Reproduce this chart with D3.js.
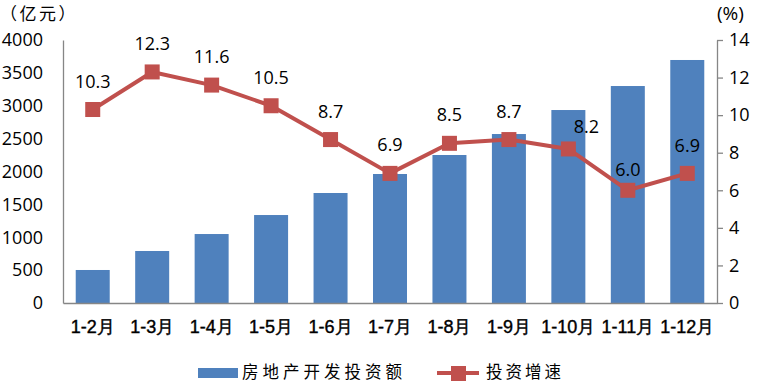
<!DOCTYPE html>
<html><head><meta charset="utf-8">
<script src="https://cdn.jsdelivr.net/npm/d3@7/dist/d3.min.js"></script>
<style>body{margin:0;background:#fff}svg{display:block}</style>
</head><body>
<svg id="c" width="761" height="382"></svg>
<script>
const categories = ["1-2月","1-3月","1-4月","1-5月","1-6月","1-7月","1-8月","1-9月","1-10月","1-11月","1-12月"];
const investment = [502, 791, 1049, 1338, 1673, 1962, 2251, 2570, 2935, 3300, 3696];
const growth = [10.3, 12.3, 11.6, 10.5, 8.7, 6.9, 8.5, 8.7, 8.2, 6.0, 6.9];
const leftTicks = [0,500,1000,1500,2000,2500,3000,3500,4000];
const rightTicks = [0,2,4,6,8,10,12,14];
const seriesNames = ["房地产开发投资额", "投资增速"];

const svg = d3.select("#c");
const L = 63, R = 717, T = 40, B = 303;
const xc = d3.scaleBand().domain(categories).range([L, R]);
const yL = d3.scaleLinear().domain([0, 4000]).range([B, T]);
const yR = d3.scaleLinear().domain([0, 14]).range([B, T]);
const blue = "#4F81BD", red = "#C0504D", axisCol = "#868686";
const numFont = "'Open Sans', sans-serif";
const cjk = "'Noto Sans CJK SC', sans-serif";

// bars
svg.append("g").selectAll("rect").data(investment).join("rect")
  .attr("x", (d,i) => xc(categories[i]) + xc.bandwidth()/2 - 17)
  .attr("width", 34)
  .attr("y", d => yL(d)).attr("height", d => B - yL(d))
  .attr("fill", blue);

// left axis
const gl = svg.append("g").attr("transform", `translate(${L},0)`)
  .call(d3.axisLeft(yL).tickValues(leftTicks).tickFormat(d3.format("d")).tickSize(0).tickPadding(20));
gl.select(".domain").attr("stroke", axisCol).attr("stroke-width", 1.3);
gl.selectAll("text").attr("font-family", numFont).attr("font-size", 18).attr("fill", "#000");

// right axis
const gr = svg.append("g").attr("transform", `translate(${R},0)`)
  .call(d3.axisRight(yR).tickValues(rightTicks).tickFormat(d3.format("d")).tickSize(6).tickPadding(6).tickSizeOuter(0));
gr.select(".domain").attr("stroke", axisCol).attr("stroke-width", 1.3);
gr.selectAll("line").attr("stroke", axisCol).attr("stroke-width", 1.3);
gr.selectAll("text").attr("font-family", numFont).attr("font-size", 18).attr("fill", "#000");

// bottom axis
const gb = svg.append("g").attr("transform", `translate(0,${B})`)
  .call(d3.axisBottom(xc).tickSize(0).tickPadding(17));
gb.select(".domain").attr("stroke", axisCol).attr("stroke-width", 1.3);
gb.selectAll("text").attr("font-family", "'Liberation Sans', Arial, sans-serif").attr("font-size", 18)
  .attr("fill", "#000").attr("stroke", "#000").attr("stroke-width", 0.4);

// line
const cx = (i) => xc(categories[i]) + xc.bandwidth()/2;
const line = d3.line().x((d,i) => cx(i)).y(d => yR(d));
svg.append("path").datum(growth).attr("d", line)
  .attr("fill", "none").attr("stroke", red).attr("stroke-width", 4).attr("stroke-linejoin", "round");
svg.append("g").selectAll("rect").data(growth).join("rect")
  .attr("x", (d,i) => cx(i) - 7.5).attr("y", d => yR(d) - 7.5)
  .attr("width", 15).attr("height", 15).attr("fill", red);

// data labels
const labelDx = [0,0,0,0,0,0,0,0,18,0,0];
const labelDy = [-22,-22,-22,-22,-22,-22,-22,-22,-16,-14,-21];
svg.append("g").selectAll("text").data(growth).join("text")
  .attr("x", (d,i) => cx(i) + labelDx[i])
  .attr("y", (d,i) => yR(d) + labelDy[i])
  .attr("text-anchor", "middle")
  .attr("font-family", numFont).attr("font-size", 18).attr("fill", "#000")
  .text(d => d.toFixed(1));

// unit titles
svg.append("text").attr("x", 0).attr("y", 20).attr("font-family", cjk).attr("font-size", 17)
  .attr("letter-spacing", 2.5).attr("fill","#000").text("（亿元）");
svg.append("text").attr("x", 717).attr("y", 20).attr("font-family", numFont).attr("font-size", 19).attr("fill","#000").text("(%)");

// legend
const lg = svg.append("g");
lg.append("rect").attr("x", 198).attr("y", 368).attr("width", 40).attr("height", 10).attr("fill", blue);
lg.append("text").attr("x", 242).attr("y", 378).attr("font-family", cjk).attr("font-size", 16.5)
  .attr("letter-spacing", 4).attr("fill","#000").text(seriesNames[0]);
lg.append("line").attr("x1", 437).attr("x2", 479).attr("y1", 373).attr("y2", 373).attr("stroke", red).attr("stroke-width", 4);
lg.append("rect").attr("x", 451).attr("y", 366).attr("width", 15).attr("height", 15).attr("fill", red);
lg.append("text").attr("x", 486).attr("y", 378).attr("font-family", cjk).attr("font-size", 16.5)
  .attr("letter-spacing", 3).attr("fill","#000").text(seriesNames[1]);
</script>
</body></html>
